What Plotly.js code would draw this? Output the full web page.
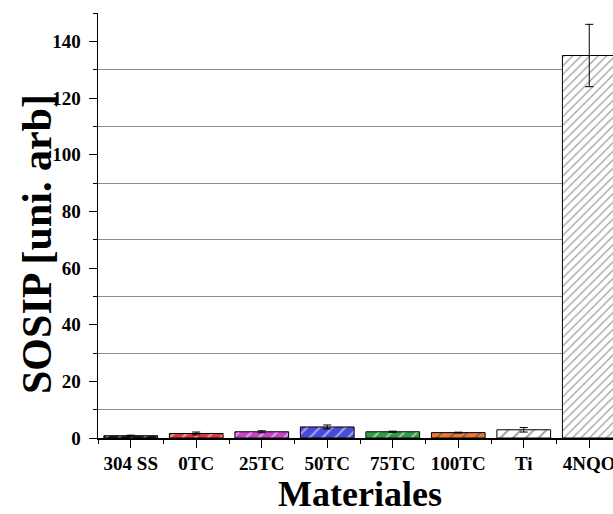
<!DOCTYPE html>
<html>
<head>
<meta charset="utf-8">
<script src="https://cdn.plot.ly/plotly-3.0.1.min.js"></script>
<style>html,body{margin:0;padding:0;background:#fff;overflow:hidden;width:613px;height:514px}#chart{width:640px;height:514px}</style>
</head>
<body>
<div id="chart"></div>
<script>
const categories = ["304 SS", "0TC", "25TC", "50TC", "75TC", "100TC", "Ti", "4NQO"];
const values = [0.8, 1.6, 2.2, 3.9, 2.2, 1.9, 2.9, 135];
const errors = [0.2, 0.5, 0.35, 0.7, 0.2, 0.15, 0.8, 11];
const fillColors = ["#202020", "#d83a3a", "#c844c8", "#4a4ad8", "#2f9e45", "#e8793a", "#ffffff", "#ffffff"];
const hatchColors = ["#000000", "#7a1010", "#701070", "#141470", "#0d5020", "#8a3a10", "#808080", "#333333"];
const hatchSizes = [9, 9, 9, 9, 9, 9, 9, 6];
const yTickVals = [0, 20, 40, 60, 80, 100, 120, 140];

const xPos = categories.map((_, i) => i);
const font = "Liberation Serif, Times New Roman, serif";

const trace = {
  type: "bar",
  x: xPos,
  y: values,
  width: 0.82,
  marker: {
    color: fillColors,
    line: {color: "#000", width: 1},
    pattern: {shape: "/", fillmode: "overlay", fgcolor: hatchColors, size: hatchSizes, solidity: 0.22}
  },
  error_y: {type: "data", array: errors, visible: true, color: "#000", thickness: 1, width: 4},
  hoverinfo: "skip"
};

const layout = {
  width: 640, height: 514,
  margin: {l: 98, r: 18, t: 13, b: 76},
  paper_bgcolor: "#fff", plot_bgcolor: "#fff",
  showlegend: false,
  font: {family: font, color: "#000"},
  xaxis: {
    range: [-0.5, 7.5],
    tickmode: "array", tickvals: xPos, ticktext: categories.map(c => "<b>" + c + "</b>"),
    tickfont: {size: 19, family: font},
    ticks: "outside", ticklen: 8, tickwidth: 1, tickcolor: "#000",
    minor: {tick0: 0.5, dtick: 1, ticks: "outside", ticklen: 4, tickwidth: 1, tickcolor: "#000", showgrid: false},
    showline: true, linecolor: "#000", linewidth: 1.5,
    showgrid: false, zeroline: false,
    ticklabeloverflow: "allow",
    title: {text: "<b>Materiales</b>", font: {size: 36, family: font}, standoff: 20}
  },
  yaxis: {
    range: [0, 150],
    tickmode: "array", tickvals: yTickVals, ticktext: yTickVals.map(v => "<b>" + v + "</b>"),
    tickfont: {size: 19, family: font},
    ticks: "outside", ticklen: 8, tickwidth: 1, tickcolor: "#000",
    ticklabelstandoff: 4,
    minor: {tick0: 10, dtick: 20, ticks: "outside", ticklen: 4, tickwidth: 1, tickcolor: "#000", showgrid: true, gridcolor: "#8c8c8c", gridwidth: 1},
    showline: true, linecolor: "#000", linewidth: 1.5,
    showgrid: false, zeroline: false
  },
  annotations: [{
    text: "<b>SOSIP [uni. arb]</b>", textangle: -90,
    xref: "paper", yref: "paper", x: (37 - 98) / 524, y: (438 - 244) / 425,
    xanchor: "center", yanchor: "middle", showarrow: false,
    font: {size: 42, family: font, color: "#000"}
  }]
};

Plotly.newPlot("chart", [trace], layout, {displayModeBar: false, staticPlot: true});
</script>
</body>
</html>
